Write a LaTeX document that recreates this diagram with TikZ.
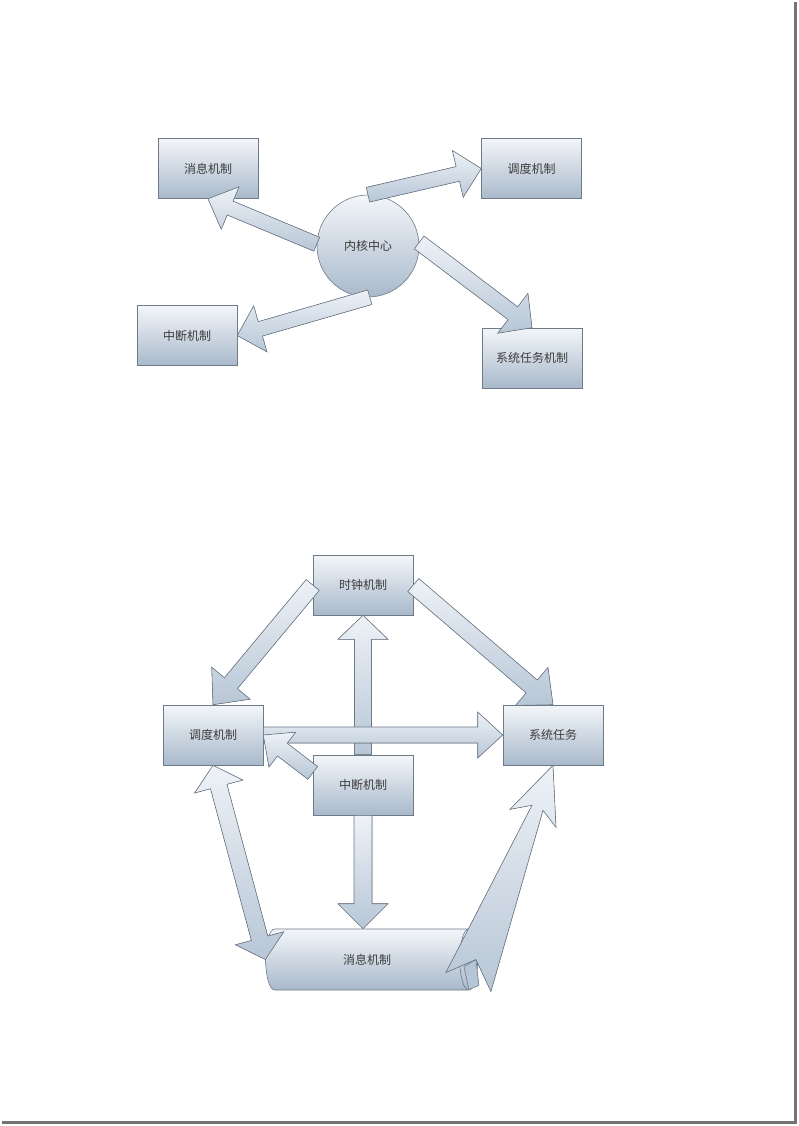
\documentclass[tikz,border=0pt]{standalone}
\usepackage{fontspec}
\newfontfamily\cjk{Noto Sans CJK SC}
\usepackage{tikz}
\usetikzlibrary{positioning, calc, shapes.geometric}

\definecolor{edgecol}{HTML}{6E7A88}
\definecolor{boxtop}{HTML}{F3F6F9}
\definecolor{boxbot}{HTML}{A9B9CB}
\definecolor{arrtop}{HTML}{EEF2F7}
\definecolor{arrbot}{HTML}{B7C6D6}
\definecolor{textcol}{HTML}{3C3C3C}

% block arrow: from, tip, shaft half width, head half width, head length
\newcommand{\blockarrow}[5]{%
  \path ($(#2)!#5!(#1)$) coordinate (hb);
  \filldraw[barrow] ($(#1)!#3!90:(#2)$) -- ($(hb)!#3!90:(#2)$)
    -- ($(hb)!#4!90:(#2)$) -- (#2) -- ($(hb)!#4!-90:(#2)$)
    -- ($(hb)!#3!-90:(#2)$) -- ($(#1)!#3!-90:(#2)$) -- cycle;}
% double block arrow: end, end, shaft half width, head half width, head length
\newcommand{\dblarrow}[5]{%
  \path ($(#1)!#5!(#2)$) coordinate (ha) ($(#2)!#5!(#1)$) coordinate (hb);
  \filldraw[barrow] (#1) -- ($(ha)!#4!90:(#2)$) -- ($(ha)!#3!90:(#2)$)
    -- ($(hb)!#3!90:(#2)$) -- ($(hb)!#4!90:(#2)$) -- (#2)
    -- ($(hb)!#4!-90:(#2)$) -- ($(hb)!#3!-90:(#2)$)
    -- ($(ha)!#3!-90:(#2)$) -- ($(ha)!#4!-90:(#2)$) -- cycle;}

\begin{document}
\begin{tikzpicture}[
  x=1pt, y=-1pt,
  font={\cjk\fontsize{12}{14}\selectfont},
  box/.style={draw=edgecol, line width=0.6pt, top color=boxtop,
              bottom color=boxbot, minimum width=100pt, minimum height=60pt,
              inner sep=0pt, text=textcol},
  core/.style={circle, draw=edgecol, line width=0.6pt, top color=boxtop,
               bottom color=boxbot, minimum size=102pt, inner sep=0pt,
               text=textcol},
  drum/.style={cylinder, shape border rotate=0, aspect=1.6, draw=edgecol,
               line width=0.6pt, top color=boxtop, bottom color=boxbot,
               minimum width=61pt, minimum height=212pt, inner sep=0pt,
               text=textcol},
  barrow/.style={draw=edgecol, line width=0.6pt, top color=arrtop,
                 bottom color=arrbot},
  fold/.style={draw=edgecol, line width=0.6pt, fill=arrbot},
  pageedge/.style={draw=black!55, line width=3pt},
]
\useasboundingbox (0,0) rectangle (798,1126);
\draw[pageedge] (795.5,2) -- (795.5,1122.5) -- (2,1122.5);

% upper picture
\node[box]  (msg1)   at (208,168.5) {消息机制};
\node[box]  (sched1) at (531.5,168.5) {调度机制};
\node[box]  (irq1)   at (187,335.5) {中断机制};
\node[box]  (task1)  at (532,358) {系统任务机制};
\node[core] (kern)   at (368,246) {内核中心};
\blockarrow{kern.178}{msg1.south}{7.5pt}{23pt}{24pt}
\blockarrow{kern.north}{sched1.west}{7.5pt}{24pt}{24pt}
\blockarrow{kern.-88}{irq1.east}{7.5pt}{24pt}{24pt}
\blockarrow{kern.4}{task1.north}{8pt}{25pt}{24pt}

% lower picture
\node[box]  (clock)  at (363,585) {时钟机制};
\node[box]  (sched2) at (213,735) {调度机制};
\node[box]  (task2)  at (553,735) {系统任务};
\node[box]  (irq2)   at (363,785) {中断机制};
\node[drum] (msg2)   at (367,959.5) {消息机制};
\coordinate (irqside) at ($(irq2.north west)!0.3!(irq2.south west)$);
\blockarrow{clock.west}{sched2.north}{8.5pt}{25pt}{28pt}
\blockarrow{clock.east}{task2.north}{8.5pt}{25pt}{28pt}
\blockarrow{irq2.north}{clock.south}{8.5pt}{25pt}{24pt}
\blockarrow{sched2.east}{task2.west}{8pt}{23pt}{25pt}
\blockarrow{irqside}{sched2.east}{8pt}{22pt}{24pt}
\blockarrow{irq2.south}{irq2.south |- msg2.north}{9pt}{25pt}{25pt}
\dblarrow{sched2.south}{msg2.west}{8.5pt}{25pt}{22pt}
\filldraw[fold] ($(msg2.east)+(-2,0)$) -- ($(msg2.east)+(-14,7)$)
  -- ($(msg2.east)+(-9,30)$) -- ($(msg2.east)+(1,26)$) -- cycle;
\filldraw[barrow] (task2.south) -- ($(task2.south)+(3,62)$)
  -- ($(task2.south)+(-10,45)$) -- ($(msg2.east)+(13,32)$)
  -- ($(msg2.east)+(-2,0)$) -- ($(msg2.east)+(-32,13)$)
  -- ($(task2.south)+(-21,40)$) -- ($(task2.south)+(-43,44)$) -- cycle;
\end{tikzpicture}
\end{document}
